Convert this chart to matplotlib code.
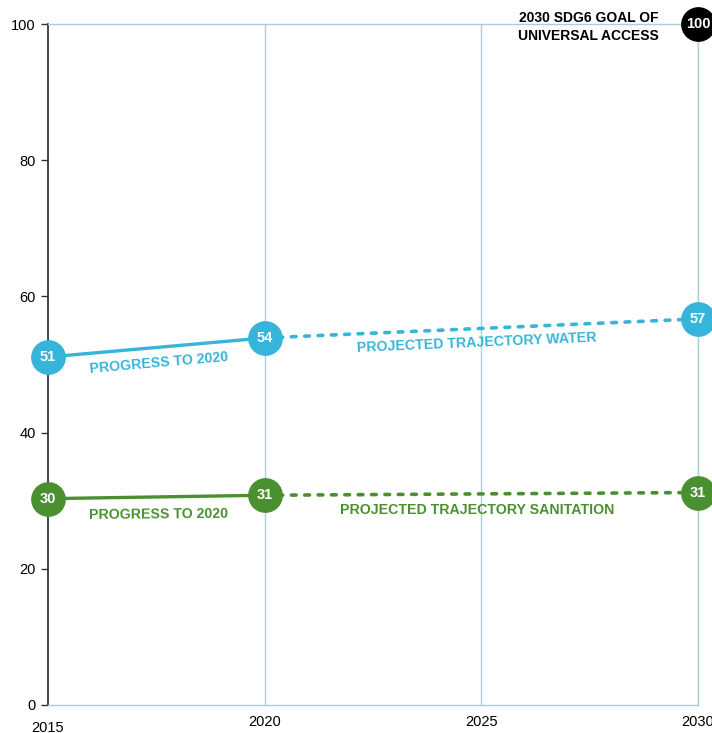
import matplotlib
matplotlib.use("Agg")
import matplotlib.pyplot as plt

plt.rcParams["font.family"] = ["Liberation Sans", "DejaVu Sans"]

YEARS_PROGRESS = [2015, 2020]
YEARS_PROJECTED = [2020, 2030]
WATER_PROGRESS = [51.1, 53.9]
WATER_PROJECTED = [53.9, 56.7]
SAN_PROGRESS = [30.3, 30.8]
SAN_PROJECTED = [30.8, 31.2]
WATER_LABELS = ["51", "54", "57"]
SAN_LABELS = ["30", "31", "31"]
GOAL_YEAR, GOAL_VALUE = 2030, 100
X_TICKS = [2015, 2020, 2025, 2030]
Y_TICKS = [0, 20, 40, 60, 80, 100]

WATER = "#35b5d9"
SAN = "#4a9030"
GRID = "#a9d0da"

fig = plt.figure(figsize=(7.12, 7.33), dpi=100)
ax = fig.add_axes([48 / 712, 28 / 733, 650 / 712, 681 / 733])
ax.set_xlim(2015, 2030)
ax.set_ylim(0, 100)

for x in X_TICKS[1:]:
    ax.axvline(x, color=GRID, lw=1, zorder=0)
for s in ("top", "right", "bottom"):
    ax.spines[s].set_color(GRID)
    ax.spines[s].set_linewidth(1)
ax.spines["left"].set_color("#1a2a33")
ax.spines["left"].set_linewidth(1.2)

ax.set_yticks(Y_TICKS)
ax.set_yticklabels([str(v) for v in Y_TICKS], fontsize=10.5)
ax.tick_params(axis="y", length=5, width=1, color="#333333", pad=4)
ax.set_xticks([])
for i, x in enumerate(X_TICKS):
    dy = -0.023 if i == 0 else -0.015
    ax.text(x, dy, str(x), transform=ax.get_xaxis_transform(), fontsize=10.5,
            ha="center", va="top")


def series(prog, proj, labels, color):
    ax.plot(YEARS_PROGRESS, prog, color=color, lw=2.4, solid_capstyle="round", zorder=2, clip_on=False)
    ax.plot(YEARS_PROJECTED, proj, color=color, lw=2.6, ls=(0, (1.3, 2.4)),
            dash_capstyle="round", zorder=2, clip_on=False)
    xs = YEARS_PROGRESS + YEARS_PROJECTED[1:]
    ys = prog + proj[1:]
    for x, y, lab in zip(xs, ys, labels):
        ax.plot(x, y, "o", ms=24, color=color, zorder=3, clip_on=False)
        ax.text(x, y, lab, color="white", fontsize=10.5, fontweight="bold",
                ha="center", va="center", zorder=4)


series(WATER_PROGRESS, WATER_PROJECTED, WATER_LABELS, WATER)
series(SAN_PROGRESS, SAN_PROJECTED, SAN_LABELS, SAN)

ax.text(2017.55, 50.2, "PROGRESS TO 2020", color=WATER, fontsize=10.2, fontweight="bold",
        ha="center", va="center", rotation=5)
ax.text(2024.9, 53.2, "PROJECTED TRAJECTORY WATER", color=WATER, fontsize=10.2, fontweight="bold",
        ha="center", va="center", rotation=2.5)
ax.text(2017.55, 28.0, "PROGRESS TO 2020", color=SAN, fontsize=10.2, fontweight="bold",
        ha="center", va="center", rotation=0.5)
ax.text(2024.9, 28.6, "PROJECTED TRAJECTORY SANITATION", color=SAN, fontsize=10.2, fontweight="bold",
        ha="center", va="center")

ax.plot(GOAL_YEAR, GOAL_VALUE, "o", ms=24, color="black", zorder=3, clip_on=False)
ax.text(GOAL_YEAR, GOAL_VALUE, str(GOAL_VALUE), color="white", fontsize=10.5, fontweight="bold",
        ha="center", va="center", zorder=4)
ax.text(2029.1, GOAL_VALUE - 0.4, "2030 SDG6 GOAL OF\nUNIVERSAL ACCESS", color="black", fontsize=10,
        fontweight="bold", ha="right", va="center", linespacing=1.35)

fig.savefig("out.png", dpi=100)
